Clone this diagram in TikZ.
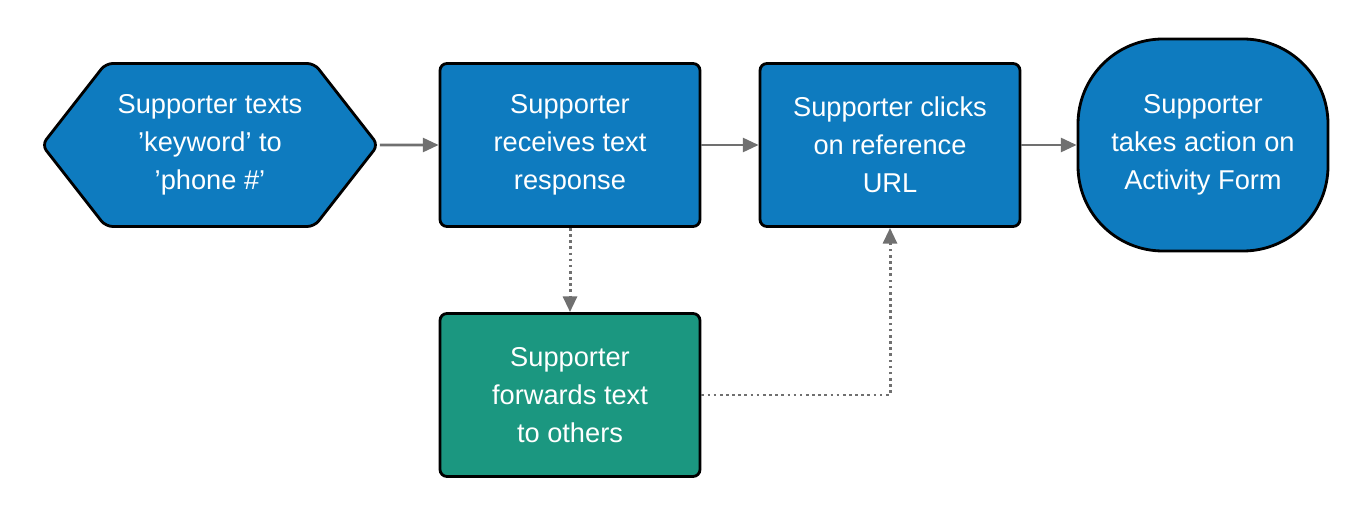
\documentclass[tikz,border=0pt]{standalone}
\usepackage{fontspec}
\setmainfont{Liberation Sans}
\usepackage{tikz}
\usetikzlibrary{arrows.meta, positioning, shapes.symbols}

\definecolor{stageblue}{HTML}{0E7BBF}
\definecolor{stagegreen}{HTML}{1B9780}
\definecolor{linkgray}{HTML}{707070}

\begin{document}
\begin{tikzpicture}[
        stage/.style={draw=black, line width=1.6pt, fill=stageblue, text=white,
            font=\fontsize{15.5}{21.5}\selectfont, align=center,
            minimum width=5.2cm, minimum height=3.26cm, rounded corners=4pt},
        link/.style={draw=linkgray, line width=1.5pt, -{Triangle[length=9pt, width=8pt]}},
        dotlink/.style={link, dotted, line width=1.7pt}
    ]
    \useasboundingbox (0,0) rectangle (27.34,-10.34);

    % Stages
    \node[stage, signal, signal to=west and east, signal pointer angle=104,
        minimum width=6.72cm] (texts) at (4.2,-2.9) {Supporter texts\\'keyword' to\\'phone \#'};
    \node[stage] (receives) at (11.4,-2.9) {Supporter\\receives text\\response};
    \node[stage] (clicks) at (17.8,-2.9) {Supporter clicks\\on reference\\URL};
    \node[stage, minimum width=5cm, minimum height=4.24cm, rounded corners=1.7cm]
        (action) at (24.06,-2.9) {Supporter\\takes action on\\Activity Form};
    \node[stage, fill=stagegreen] (forwards) at (11.4,-7.9) {Supporter\\forwards text\\to others};

    % Links
    \draw[link] (texts) -- (receives);
    \draw[link] (receives) -- (clicks);
    \draw[link] (clicks) -- (action);
    \draw[dotlink] (receives) -- (forwards);
    \draw[dotlink] (forwards.east) -| (clicks.south);

\end{tikzpicture}
\end{document}
